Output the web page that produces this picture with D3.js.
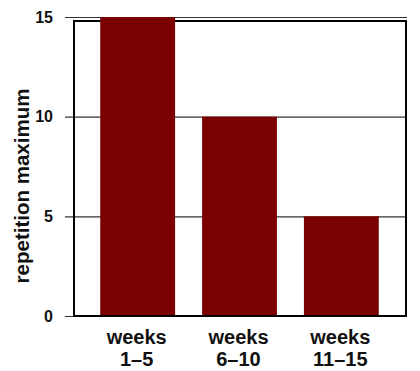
<!DOCTYPE html>
<html>
    <head>
        <script src="https://d3js.org/d3.v7.js"></script>
        <style>
            body{
                margin: 0;
                background: #fff;
            }
            text{
                font-family: 'Liberation Sans', Arial, sans-serif;
                font-weight: bold;
                fill: #111;
            }
        </style>
    </head>
    <body>
        <div class="graph">
            <script>
                const w = 420
                const h = 371

                // data
                const periods = ['weeks 1\u20135', 'weeks 6\u201310', 'weeks 11\u201315']
                const repMax = [15, 10, 5]
                const yTicks = [0, 5, 10, 15]
                const yTitle = 'repetition maximum'

                const box = {left: 74, right: 406, top: 21, bottom: 316}

                const svg = d3.select('.graph')
                        .append('svg')
                        .attr('width', w)
                        .attr('height', h)

                const x = d3.scaleBand()
                        .domain(periods)
                        .range([87, 392])
                        .paddingInner(0.265)
                        .paddingOuter(0.13)

                const y = d3.scaleLinear()
                        .domain([0, 15])
                        .range([box.bottom, 17])

                // gridlines + tick labels
                const yAxis = d3.axisLeft(y)
                        .tickValues(yTicks)
                        .tickSize(-(box.right + 1 - 65))
                        .tickPadding(12)
                        .tickFormat(d3.format('d'))

                const gy = svg.append('g')
                        .attr('transform', 'translate(65,0)')
                        .call(yAxis)
                gy.select('.domain').remove()
                gy.selectAll('.tick line')
                        .attr('stroke', '#333')
                        .attr('stroke-width', 1.2)
                gy.selectAll('.tick text')
                        .style('font-size', '16px')
                        .attr('fill', '#111')

                // plot frame
                svg.append('rect')
                        .attr('x', box.left)
                        .attr('y', box.top)
                        .attr('width', box.right - box.left)
                        .attr('height', box.bottom - box.top)
                        .attr('fill', 'none')
                        .attr('stroke', '#000')
                        .attr('stroke-width', 2)

                svg.append('g')
                        .selectAll('rect')
                        .data(periods)
                        .enter()
                        .append('rect')
                        .attr('x', d => x(d))
                        .attr('width', x.bandwidth())
                        .attr('y', (d, i) => y(repMax[i]))
                        .attr('height', (d, i) => y(0) - y(repMax[i]))
                        .attr('fill', '#7b0000')

                svg.append('line')
                        .attr('x1', box.left - 1)
                        .attr('x2', box.right + 1)
                        .attr('y1', box.bottom)
                        .attr('y2', box.bottom)
                        .attr('stroke', '#000')
                        .attr('stroke-width', 2)

                // category labels, two lines each
                const xl = svg.append('g')
                        .selectAll('text')
                        .data(periods)
                        .enter()
                        .append('text')
                        .attr('text-anchor', 'middle')
                        .style('font-size', '20px')
                xl.each(function(d){
                    const parts = d.split(' ')
                    const t = d3.select(this)
                    const cx = x(d) + x.bandwidth() / 2 - 1
                    t.append('tspan').attr('x', cx).attr('y', 344).text(parts[0])
                    t.append('tspan').attr('x', cx).attr('y', 366).text(parts[1])
                })

                svg.append('text')
                        .attr('transform', 'translate(29,186) rotate(-90)')
                        .attr('text-anchor', 'middle')
                        .style('font-size', '20.5px')
                        .text(yTitle)
            </script>
        </div>
    </body>
</html>
